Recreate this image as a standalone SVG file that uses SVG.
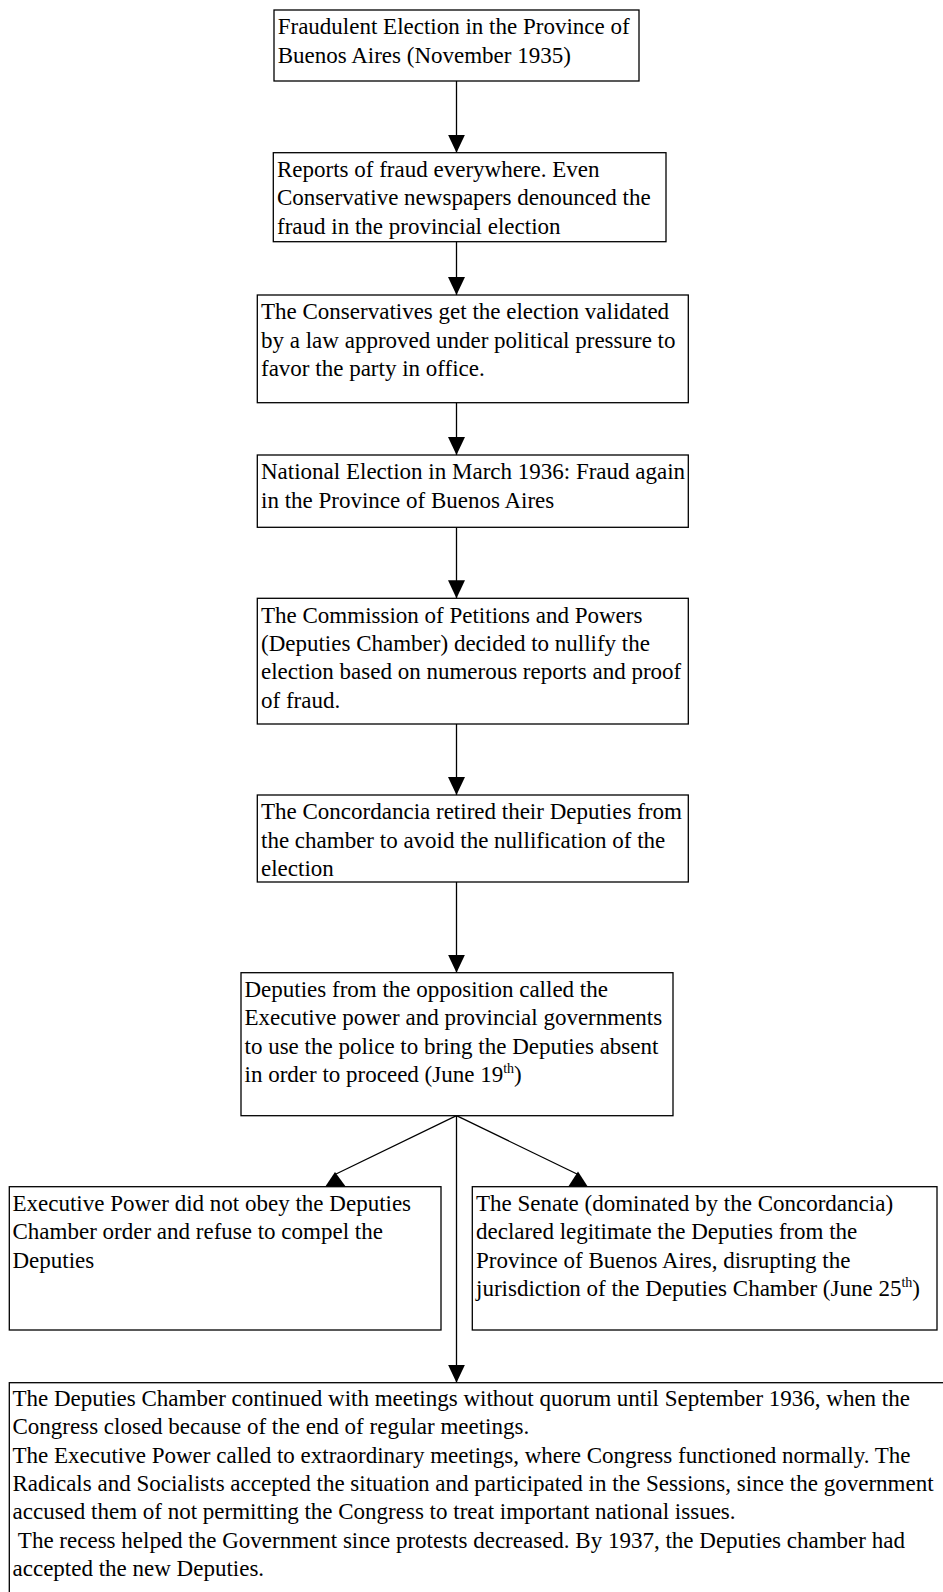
<svg xmlns="http://www.w3.org/2000/svg" width="943" height="1592" viewBox="0 0 943 1592">
<style>
.box{fill:#fff;stroke:#000;stroke-width:1.3}
.t{font-family:"Liberation Serif","Times New Roman",serif;font-size:23px;fill:#000}
.sup{font-size:14px}
.ln{stroke:#000;stroke-width:1.3;fill:none}
.ah{fill:#000}
</style>
<defs>
<marker id="arr" markerUnits="userSpaceOnUse" markerWidth="18" markerHeight="17" refX="18" refY="8.5" orient="auto">
<path d="M0,0 L18,8.5 L0,17 z" fill="#000"/>
</marker>
</defs>
<g id="connectors">
<line class="ln" x1="456.5" y1="81" x2="456.5" y2="152.7" marker-end="url(#arr)"/>
<line class="ln" x1="456.5" y1="241.7" x2="456.5" y2="295" marker-end="url(#arr)"/>
<line class="ln" x1="456.5" y1="402.7" x2="456.5" y2="455" marker-end="url(#arr)"/>
<line class="ln" x1="456.5" y1="527.3" x2="456.5" y2="598.3" marker-end="url(#arr)"/>
<line class="ln" x1="456.5" y1="724" x2="456.5" y2="795" marker-end="url(#arr)"/>
<line class="ln" x1="456.5" y1="882" x2="456.5" y2="972.7" marker-end="url(#arr)"/>
<line class="ln" x1="456.5" y1="1115.7" x2="336" y2="1174"/>
<polygon class="ah" points="335,1172 325,1187 346,1187"/>
<line class="ln" x1="456.5" y1="1115.7" x2="577" y2="1174"/>
<polygon class="ah" points="578,1171.5 568,1187 588,1187"/>
<line class="ln" x1="456.5" y1="1115.7" x2="456.5" y2="1382.7" marker-end="url(#arr)"/>
</g>
<g id="n1">
<rect class="box" x="274" y="10" width="365" height="71"/>
<text class="t"><tspan x="277.7" y="34.3">Fraudulent Election in the Province of</tspan><tspan x="277.7" y="62.6">Buenos Aires (November 1935)</tspan></text>
</g>
<g id="n2">
<rect class="box" x="273.3" y="152.7" width="392.7" height="89"/>
<text class="t"><tspan x="277" y="177">Reports of fraud everywhere. Even</tspan><tspan x="277" y="205.3">Conservative newspapers denounced the</tspan><tspan x="277" y="233.6">fraud in the provincial election</tspan></text>
</g>
<g id="n3">
<rect class="box" x="257.3" y="295" width="431" height="107.7"/>
<text class="t"><tspan x="261" y="319.3">The Conservatives get the election validated</tspan><tspan x="261" y="347.6">by a law approved under political pressure to</tspan><tspan x="261" y="375.9">favor the party in office.</tspan></text>
</g>
<g id="n4">
<rect class="box" x="257.3" y="455" width="431" height="72.3"/>
<text class="t"><tspan x="261" y="479.3">National Election in March 1936: Fraud again</tspan><tspan x="261" y="507.6">in the Province of Buenos Aires</tspan></text>
</g>
<g id="n5">
<rect class="box" x="257.3" y="598.3" width="431" height="125.7"/>
<text class="t"><tspan x="261" y="622.6">The Commission of Petitions and Powers</tspan><tspan x="261" y="650.9">(Deputies Chamber) decided to nullify the</tspan><tspan x="261" y="679.2">election based on numerous reports and proof</tspan><tspan x="261" y="707.5">of fraud.</tspan></text>
</g>
<g id="n6">
<rect class="box" x="257.3" y="795" width="431" height="87"/>
<text class="t"><tspan x="261" y="819.3">The Concordancia retired their Deputies from</tspan><tspan x="261" y="847.6">the chamber to avoid the nullification of the</tspan><tspan x="261" y="875.9">election</tspan></text>
</g>
<g id="n7">
<rect class="box" x="241" y="972.7" width="432" height="143"/>
<text class="t"><tspan x="244.5" y="997">Deputies from the opposition called the</tspan><tspan x="244.5" y="1025.3">Executive power and provincial governments</tspan><tspan x="244.5" y="1053.6">to use the police to bring the Deputies absent</tspan><tspan x="244.5" y="1081.9">in order to proceed (June 19</tspan><tspan class="sup" dy="-9">th</tspan><tspan dy="9">)</tspan></text>
</g>
<g id="n8">
<rect class="box" x="9.3" y="1186.7" width="431.7" height="143.3"/>
<text class="t"><tspan x="12.5" y="1211">Executive Power did not obey the Deputies</tspan><tspan x="12.5" y="1239.3">Chamber order and refuse to compel the</tspan><tspan x="12.5" y="1267.6">Deputies</tspan></text>
</g>
<g id="n9">
<rect class="box" x="472.3" y="1186.7" width="464.7" height="143.3"/>
<text class="t"><tspan x="476" y="1211">The Senate (dominated by the Concordancia)</tspan><tspan x="476" y="1239.3">declared legitimate the Deputies from the</tspan><tspan x="476" y="1267.6">Province of Buenos Aires, disrupting the</tspan><tspan x="476" y="1295.9">jurisdiction of the Deputies Chamber (June 25</tspan><tspan class="sup" dy="-9">th</tspan><tspan dy="9">)</tspan></text>
</g>
<g id="n10">
<rect class="box" x="9.3" y="1382.7" width="950" height="240"/>
<text class="t" xml:space="preserve"><tspan x="12.5" y="1406">The Deputies Chamber continued with meetings without quorum until September 1936, when the</tspan><tspan x="12.5" y="1434.3">Congress closed because of the end of regular meetings.</tspan><tspan x="12.5" y="1462.6">The Executive Power called to extraordinary meetings, where Congress functioned normally. The</tspan><tspan x="12.5" y="1490.9">Radicals and Socialists accepted the situation and participated in the Sessions, since the government</tspan><tspan x="12.5" y="1519.2">accused them of not permitting the Congress to treat important national issues.</tspan><tspan x="12.5" y="1547.5"> The recess helped the Government since protests decreased. By 1937, the Deputies chamber had</tspan><tspan x="12.5" y="1575.8">accepted the new Deputies.</tspan></text>
</g>
</svg>
